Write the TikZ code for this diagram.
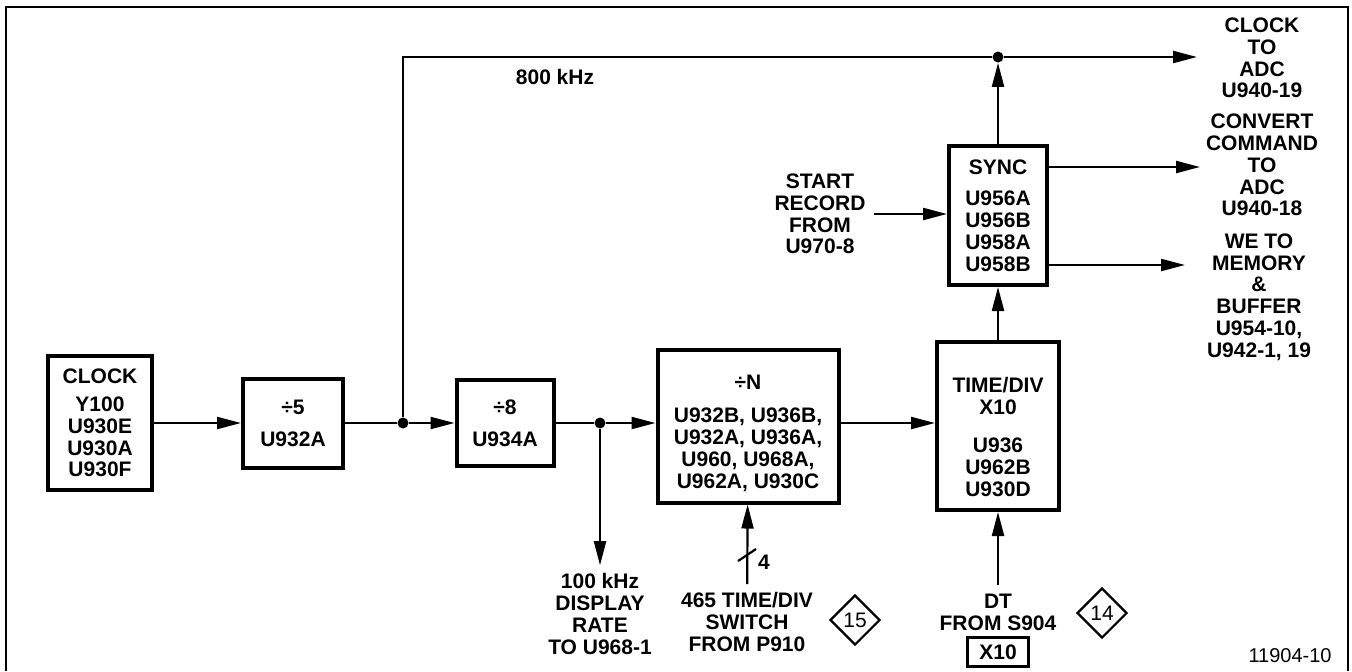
\documentclass[tikz,border=0pt]{standalone}
\usepackage{fontspec}
\setmainfont{Liberation Sans}
\usetikzlibrary{arrows.meta,shapes.geometric}
\tikzset{
  every node/.style={font=\bfseries\fontsize{10.5}{10.9}\selectfont},
  blk/.style={draw, line width=2pt, align=center, inner sep=2pt},
  lbl/.style={align=center, inner sep=4pt},
  sig/.style={line width=1.1pt, -{Triangle[length=12pt,width=6pt]}},
  wire/.style={line width=1.1pt},
  tag/.style={draw, diamond, line width=1.1pt, minimum width=25pt, minimum height=25pt, inner sep=0pt, font=\mdseries\fontsize{10.5}{12}\selectfont},
  dot/.style={circle, fill, inner sep=0pt, minimum size=5.5pt}
}
\begin{document}
\begin{tikzpicture}[x=0.5pt,y=-0.5pt]
        \useasboundingbox (0,0) rectangle (1352,671);
        \draw[line width=1.2pt] (6,671) -- (6,7) -- (1348,7) -- (1348,671);
        % main chain
        \node[blk, minimum width=52pt, minimum height=67pt] (clk) at (100,423) {CLOCK\\[3pt]Y100\\U930E\\U930A\\U930F};
        \node[blk, minimum width=50pt, minimum height=44.5pt] (div5) at (293,423) {÷5\\[5pt]U932A};
        \node[dot] (j1) at (403,423) {};
        \node[blk, minimum width=48.5pt, minimum height=43pt] (div8) at (505,423) {÷8\\[5pt]U934A};
        \node[dot] (j2) at (600,423) {};
        \node[blk, minimum width=90.5pt, minimum height=76.5pt] (divn) at (748,426) {};
        \node[lbl] (divntxt) at (748,433) {÷N\\[6pt]U932B, U936B,\\U932A, U936A,\\U960, U968A,\\U962A, U930C};
        \node[blk, minimum width=61pt, minimum height=84pt] (tdiv) at (998,426) {};
        \node[lbl] (tdivtxt) at (998,437) {TIME/DIV\\X10\\[8pt]U936\\U962B\\U930D};
        \node[blk, minimum width=49pt, minimum height=69.5pt] (sync) at (998,215.5) {SYNC\\[5pt]U956A\\U956B\\U958A\\U958B};
        \node[dot] (j3) at (998,57) {};
        % labels
        \node[lbl] (khz) at (555,77) {800 kHz};
        \node[lbl] (start) at (820,214) {START\\RECORD\\FROM\\U970-8};
        \node[lbl] (dsp) at (600,614) {100 kHz\\DISPLAY\\RATE\\TO U968-1};
        \node[lbl] (sw) at (747,622) {465 TIME/DIV\\SWITCH\\FROM P910};
        \node[lbl] (dt) at (998,612) {DT\\FROM S904};
        \node[draw, line width=1.1pt, minimum width=30.5pt, minimum height=14.5pt, inner sep=1pt] (x10) at (998,652) {X10};
        \node[tag] (t15) at (855,620) {15};
        \node[tag] (t14) at (1102,613) {14};
        \node[lbl] (clkadc) at (1262,58) {CLOCK\\TO\\ADC\\U940-19};
        \node[lbl] (cvtadc) at (1262,165) {CONVERT\\COMMAND\\TO\\ADC\\U940-18};
        \node[lbl] (wemem) at (1259,297) {WE TO\\MEMORY\\\&\\BUFFER\\U954-10,\\U942-1, 19};
        \node[lbl, font=\mdseries\fontsize{10}{12}\selectfont] (fig) at (1290,656) {11904-10};
        % connectors
        \draw[sig] (clk) -- (div5);
        \draw[wire] (div5) -- (j1);
        \draw[sig] (j1) -- (div8);
        \draw[wire] (div8) -- (j2);
        \draw[sig] (j2) -- (j2 -| divn.west);
        \draw[sig] (j2) -- (dsp);
        \draw[sig] (divn.east |- j2) -- (j2 -| tdiv.west);
        \draw[sig] (sw) -- (divn);
        \coordinate (bus) at (747,555);
        \draw[wire] (bus) +(-9,6) -- +(9,-6);
        \node (bw) at (764,562) {4};
        \draw[sig] (dt) -- (tdiv);
        \draw[sig] (tdiv) -- (sync);
        \draw[sig] (sync) -- (j3);
        \draw[wire] (j1) |- (j3);
        \coordinate (clkend) at (1197,57);
        \draw[sig] (j3) -- (clkend);
        \coordinate (cvtend) at (1200,167);
        \draw[sig] (cvtend -| sync.east) -- (cvtend);
        \coordinate (weend) at (1185,265);
        \draw[sig] (weend -| sync.east) -- (weend);
        \draw[sig] (start) -- (start -| sync.west);
    \end{tikzpicture}
\end{document}
